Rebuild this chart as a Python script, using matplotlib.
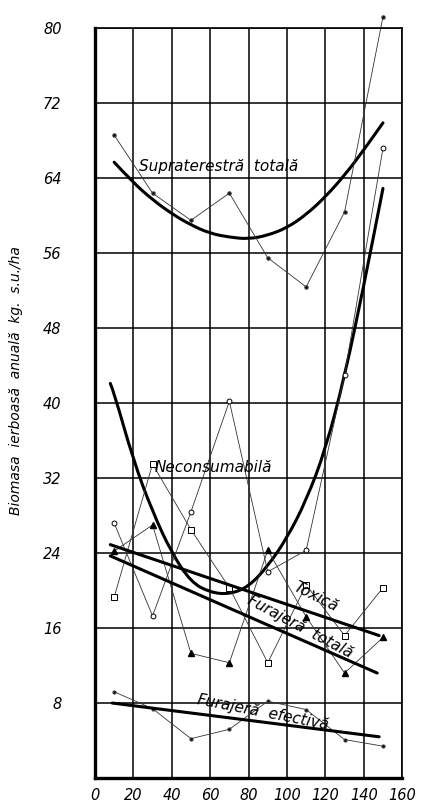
import numpy as np
import matplotlib
matplotlib.use("Agg")
import matplotlib.pyplot as plt
from matplotlib.path import Path
from matplotlib.patches import PathPatch

# observation years (x) for all point series
x_obs = [10, 30, 50, 70, 90, 110, 130, 150]

supra_pts = [68.6, 62.4, 59.5, 62.4, 55.5, 52.4, 60.4, 81.2]
necons_pts = [27.2, 17.3, 28.4, 40.2, 22.0, 24.3, 43.0, 67.2]
toxica_pts = [19.3, 33.5, 26.5, 20.3, 12.3, 20.6, 15.2, 20.3]
furtot_pts = [24.2, 27.0, 13.3, 12.3, 24.3, 17.2, 11.2, 15.0]
furef_pts = [9.2, 7.4, 4.2, 5.2, 8.2, 7.3, 4.1, 3.4]

# hand-drawn trend curves
supra_cx = [10, 20, 30, 40, 50, 60, 70, 80, 90, 100, 110, 120, 130, 140, 150]
supra_cy = [65.7, 63.5, 61.7, 60.2, 59.0, 58.1, 57.7, 57.5, 57.9, 58.7, 60.1, 62.0, 64.3, 67.0, 69.9]

necons_cx = [8, 10, 20, 30, 40, 50, 60, 70, 80, 90, 100, 110, 120, 130, 140, 150]
necons_cy = [42.1, 41.1, 33.9, 28.4, 24.0, 20.9, 19.8, 19.6, 20.4, 22.6, 25.6, 29.6, 35.0, 42.8, 52.5, 62.9]

toxica_lx = [8, 148]
toxica_ly = [24.9, 15.2]
furtot_lx = [8, 147]
furtot_ly = [23.7, 11.2]
furef_lx = [9, 148]
furef_ly = [8.0, 4.4]


def smooth_curve(ax, xs, ys, **kw):
    # quadratic Bezier through the midpoints, read points act as controls
    verts = [(xs[0], ys[0])]
    codes = [Path.MOVETO]
    for i in range(1, len(xs) - 1):
        verts.append((xs[i], ys[i]))
        verts.append(((xs[i] + xs[i + 1]) / 2, (ys[i] + ys[i + 1]) / 2))
        codes += [Path.CURVE3, Path.CURVE3]
    verts.append((xs[-1], ys[-1]))
    codes.append(Path.LINETO)
    ax.add_patch(PathPatch(Path(verts, codes), fill=False, transform=ax.transData, **kw))


fig = plt.figure(figsize=(4.22, 8.05), dpi=100)
ax = fig.add_axes([0.225, 0.0335, 0.728, 0.9315])

thin = dict(color="#333333", linewidth=0.6, clip_on=False)
ax.plot(x_obs, supra_pts, marker="o", markersize=2.2, markerfacecolor="k", **thin)
ax.plot(x_obs, necons_pts, marker="o", markersize=3.5, markerfacecolor="white",
        markeredgecolor="k", markeredgewidth=0.7, **thin)
ax.plot(x_obs, toxica_pts, marker="s", markersize=3.8, markerfacecolor="white",
        markeredgecolor="k", markeredgewidth=0.7, **thin)
ax.plot(x_obs, furtot_pts, marker="^", markersize=4, markerfacecolor="k",
        markeredgecolor="k", **thin)
ax.plot(x_obs, furef_pts, marker="o", markersize=2, markerfacecolor="k", **thin)

smooth_curve(ax, supra_cx, supra_cy, edgecolor="k", linewidth=2.2, capstyle="round")
smooth_curve(ax, necons_cx, necons_cy, edgecolor="k", linewidth=2.2, capstyle="round")
thick = dict(color="k", linewidth=2.2, solid_capstyle="round")
ax.plot(toxica_lx, toxica_ly, **thick)
ax.plot(furtot_lx, furtot_ly, **thick)
ax.plot(furef_lx, furef_ly, **thick)

lbl = dict(fontsize=11, style="italic", color="k")
ax.text(23, 65.2, "Supraterestră  totală", va="center", ha="left", **lbl)
ax.text(31, 33.1, "Neconsumabilă", va="center", ha="left", **lbl)
ax.text(115, 19.3, "Toxică", va="center", ha="center", rotation=-27,
        rotation_mode="anchor", **lbl)
ax.text(107, 16.1, "Furajeră  totală", va="center", ha="center", rotation=-28,
        rotation_mode="anchor", **lbl)
ax.text(87.5, 7.0, "Furajeră  efectivă", va="center", ha="center", rotation=-11,
        rotation_mode="anchor", **lbl)

ax.set_xlim(0, 160)
ax.set_ylim(0, 80)
ax.set_xticks(np.arange(0, 161, 20))
ax.set_yticks(np.arange(0, 81, 8))
ax.set_yticklabels(["", "8", "16", "24", "32", "40", "48", "56", "64", "72", "80"])
ax.tick_params(length=0, labelsize=10.5)
ax.tick_params(axis="y", pad=24)
ax.tick_params(axis="x", pad=7)
for t in ax.get_xticklabels() + ax.get_yticklabels():
    t.set_style("italic")

ax.grid(True, color="k", linewidth=1.1)
ax.set_axisbelow(True)
for side in ["left", "bottom"]:
    ax.spines[side].set_linewidth(2.4)
for side in ["top", "right"]:
    ax.spines[side].set_linewidth(1.2)

ax.set_ylabel("Biomasa  ierboasă  anuală  kg.  s.u./ha", fontsize=10, style="italic")
ax.yaxis.set_label_coords(-0.235, 0.53)

fig.savefig("out.png", dpi=100)
